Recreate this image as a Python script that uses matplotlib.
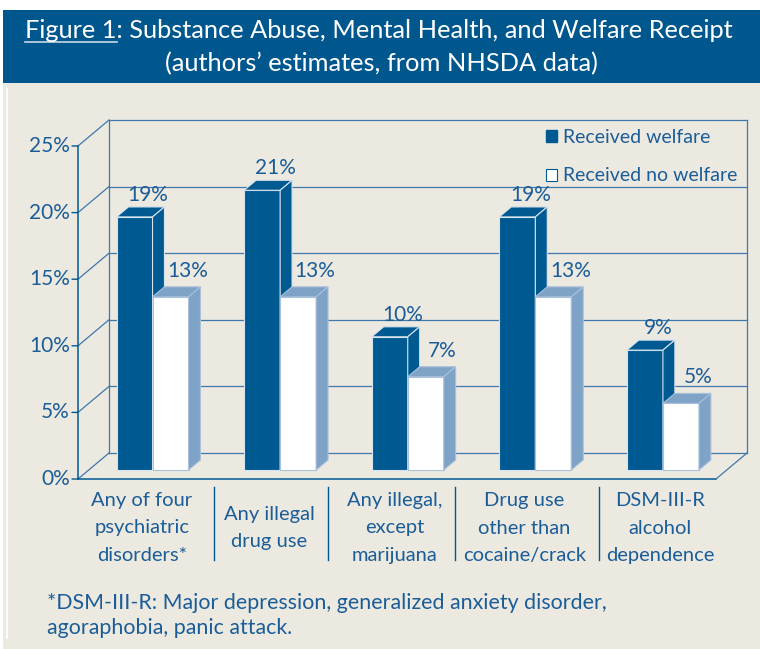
import matplotlib
matplotlib.use("Agg")
import matplotlib.pyplot as plt
from matplotlib.patches import Rectangle, Polygon, Patch
from matplotlib.transforms import blended_transform_factory

plt.rcParams['font.family'] = ['Lato', 'DejaVu Sans']

# data
categories = ["Any of four\npsychiatric\ndisorders*", "Any illegal\ndrug use",
              "Any illegal,\nexcept\nmarijuana", "Drug use\nother than\ncocaine/crack",
              "DSM-III-R\nalcohol\ndependence"]
welfare = [19, 21, 10, 19, 9]
no_welfare = [13, 13, 7, 13, 5]
yticks = [0, 5, 10, 15, 20, 25]
series_names = ["Received welfare", "Received no welfare"]

# colours
BANNER = '#00578e'
BEIGE = '#ece9e0'
DARK = '#005a92'
LIGHT = '#7fa2c7'
TEXT = '#1b5d98'
LINE = '#3f78aa'

W, H = 760, 649
fig = plt.figure(figsize=(W / 100, H / 100), dpi=100, facecolor='white')

def fx(px):
    return px / W

def fy(py):
    return 1 - py / H

def pt(px):
    return px * 0.72

# banner and background panel
fig.add_artist(Rectangle((fx(3), fy(83)), fx(757), 73 / H, transform=fig.transFigure,
                         facecolor=BANNER, edgecolor='none', zorder=0))
fig.add_artist(Rectangle((fx(3), 0), fx(757), fy(83), transform=fig.transFigure,
                         facecolor=BEIGE, edgecolor='none', zorder=0))
fig.add_artist(plt.Line2D([fx(7), fx(7)], [fy(88), fy(638)], transform=fig.transFigure,
                          color='white', lw=1.2, zorder=0.5))

# title
TS = 18.3
t1 = fig.text(fx(379), fy(31), "Figure 1: Substance Abuse, Mental Health, and Welfare Receipt",
              ha='center', va='center', color='white', fontsize=TS)
fig.text(fx(381), fy(64), "(authors\u2019 estimates, from NHSDA data)",
         ha='center', va='center', color='white', fontsize=TS)
r = fig.canvas.get_renderer()
bb = t1.get_window_extent(r)
tmp = fig.text(0, 0, "Figure 1", fontsize=TS)
wpre = tmp.get_window_extent(r).width
tmp.remove()
fig.add_artist(plt.Line2D([bb.x0 / W, (bb.x0 + wpre) / W], [fy(42), fy(42)],
                          transform=fig.transFigure, color='#c9d9e8', lw=1.2))

# main axes: front plane of the 3D chart
ax = fig.add_axes([fx(78), fy(479), fx(716) - fx(78), fy(146) - fy(479)])
ax.set_xlim(0, 5)
ax.set_ylim(0, 25)
ax.axis('off')

n = len(categories)
dx = 31 / 127.6   # wall depth in category units
dy = 26 / 13.32   # wall depth in percent units
top = yticks[-1]

lk = dict(color=LINE, lw=0.9, clip_on=False, zorder=1)
# back wall
for y in yticks:
    ax.plot([dx, n + dx], [y + dy, y + dy], **lk)
    ax.plot([0, dx], [y, y + dy], **lk)
ax.plot([dx, dx], [dy, top + dy], **lk)
ax.plot([n + dx, n + dx], [dy, top + dy], **lk)
# floor
ax.plot([0, n], [0, 0], color=DARK, lw=1.1, clip_on=False, zorder=1)
ax.plot([n, n + dx], [0, dy], **lk)
# front y axis
ax.plot([0, 0], [0, top], color=DARK, lw=1.1, clip_on=False, zorder=1)
for y in yticks:
    ax.annotate("", xy=(0, y), xytext=(pt(-6), 0), textcoords='offset points',
                arrowprops=dict(arrowstyle='-', color=DARK, lw=1.0, shrinkA=0, shrinkB=0))
    ax.annotate(f"{y}%", xy=(0, y), xytext=(pt(-8), 0), textcoords='offset points',
                ha='right', va='center', color=TEXT, fontsize=15)

# bars
bw = 36 / 127.6
z0, z1 = 9 / 26, 19 / 26

def bar3d(x0, h, front, side, topc, edge, zo):
    a = x0 + z0 * dx
    b = x0 + z1 * dx
    ya, yb = z0 * dy, z1 * dy
    faces = [
        ([(a, ya), (a + bw, ya), (a + bw, ya + h), (a, ya + h)], front),
        ([(a, ya + h), (a + bw, ya + h), (b + bw, yb + h), (b, yb + h)], topc),
        ([(a + bw, ya), (b + bw, yb), (b + bw, yb + h), (a + bw, ya + h)], side),
    ]
    for verts, c in faces:
        ax.add_patch(Polygon(verts, closed=True, facecolor=c, edgecolor=edge,
                             lw=0.8, clip_on=False, zorder=zo))

for i in range(n):
    left = i + 0.5 - bw
    bar3d(left, welfare[i], DARK, DARK, DARK, '#d7e3ee', 2 + i)
    bar3d(left + bw, no_welfare[i], 'white', LIGHT, LIGHT, '#a9c1da', 2 + i)
    ax.annotate(f"{welfare[i]}%", xy=(left + bw / 2 + z1 * dx, welfare[i] + z1 * dy),
                xytext=(pt(1), pt(12)), textcoords='offset points',
                ha='center', va='center', color=TEXT, fontsize=15, zorder=20)
    ax.annotate(f"{no_welfare[i]}%", xy=(left + 1.5 * bw + z1 * dx, no_welfare[i] + z1 * dy),
                xytext=(pt(5), pt(16)), textcoords='offset points',
                ha='center', va='center', color=TEXT, fontsize=15, zorder=20)

# category labels and separators
tr = blended_transform_factory(ax.transData, fig.transFigure)
label_shift = [0, 0, -0.02, 0, 0.06]
for i, lab in enumerate(categories):
    ax.text(i + 0.5 + label_shift[i], fy(528), lab, transform=tr, ha='center', va='center',
            multialignment='center', color=TEXT, fontsize=14.5, linespacing=1.75)
for sx in [214, 328, 455, 599]:
    fig.add_artist(plt.Line2D([fx(sx), fx(sx)], [fy(487), fy(560)],
                              transform=fig.transFigure, color=DARK, lw=1.0))

# legend
handles = [Patch(facecolor=DARK, edgecolor=DARK),
           Patch(facecolor='white', edgecolor=DARK, lw=0.8)]
fig.legend(handles, series_names, loc='upper left', bbox_to_anchor=(fx(546), fy(129)),
           bbox_transform=fig.transFigure, frameon=False, borderpad=0, borderaxespad=0,
           handlelength=0.57, handleheight=0.57, handletextpad=0.32, labelspacing=1.1,
           fontsize=14, labelcolor=TEXT)

# footnote
fig.text(fx(47), fy(603), "*DSM-III-R: Major depression, generalized anxiety disorder,",
         ha='left', va='center', color=TEXT, fontsize=15.4)
fig.text(fx(47), fy(628), "agoraphobia, panic attack.",
         ha='left', va='center', color=TEXT, fontsize=15.4)

fig.savefig("out.png", dpi=100, facecolor=fig.get_facecolor())
